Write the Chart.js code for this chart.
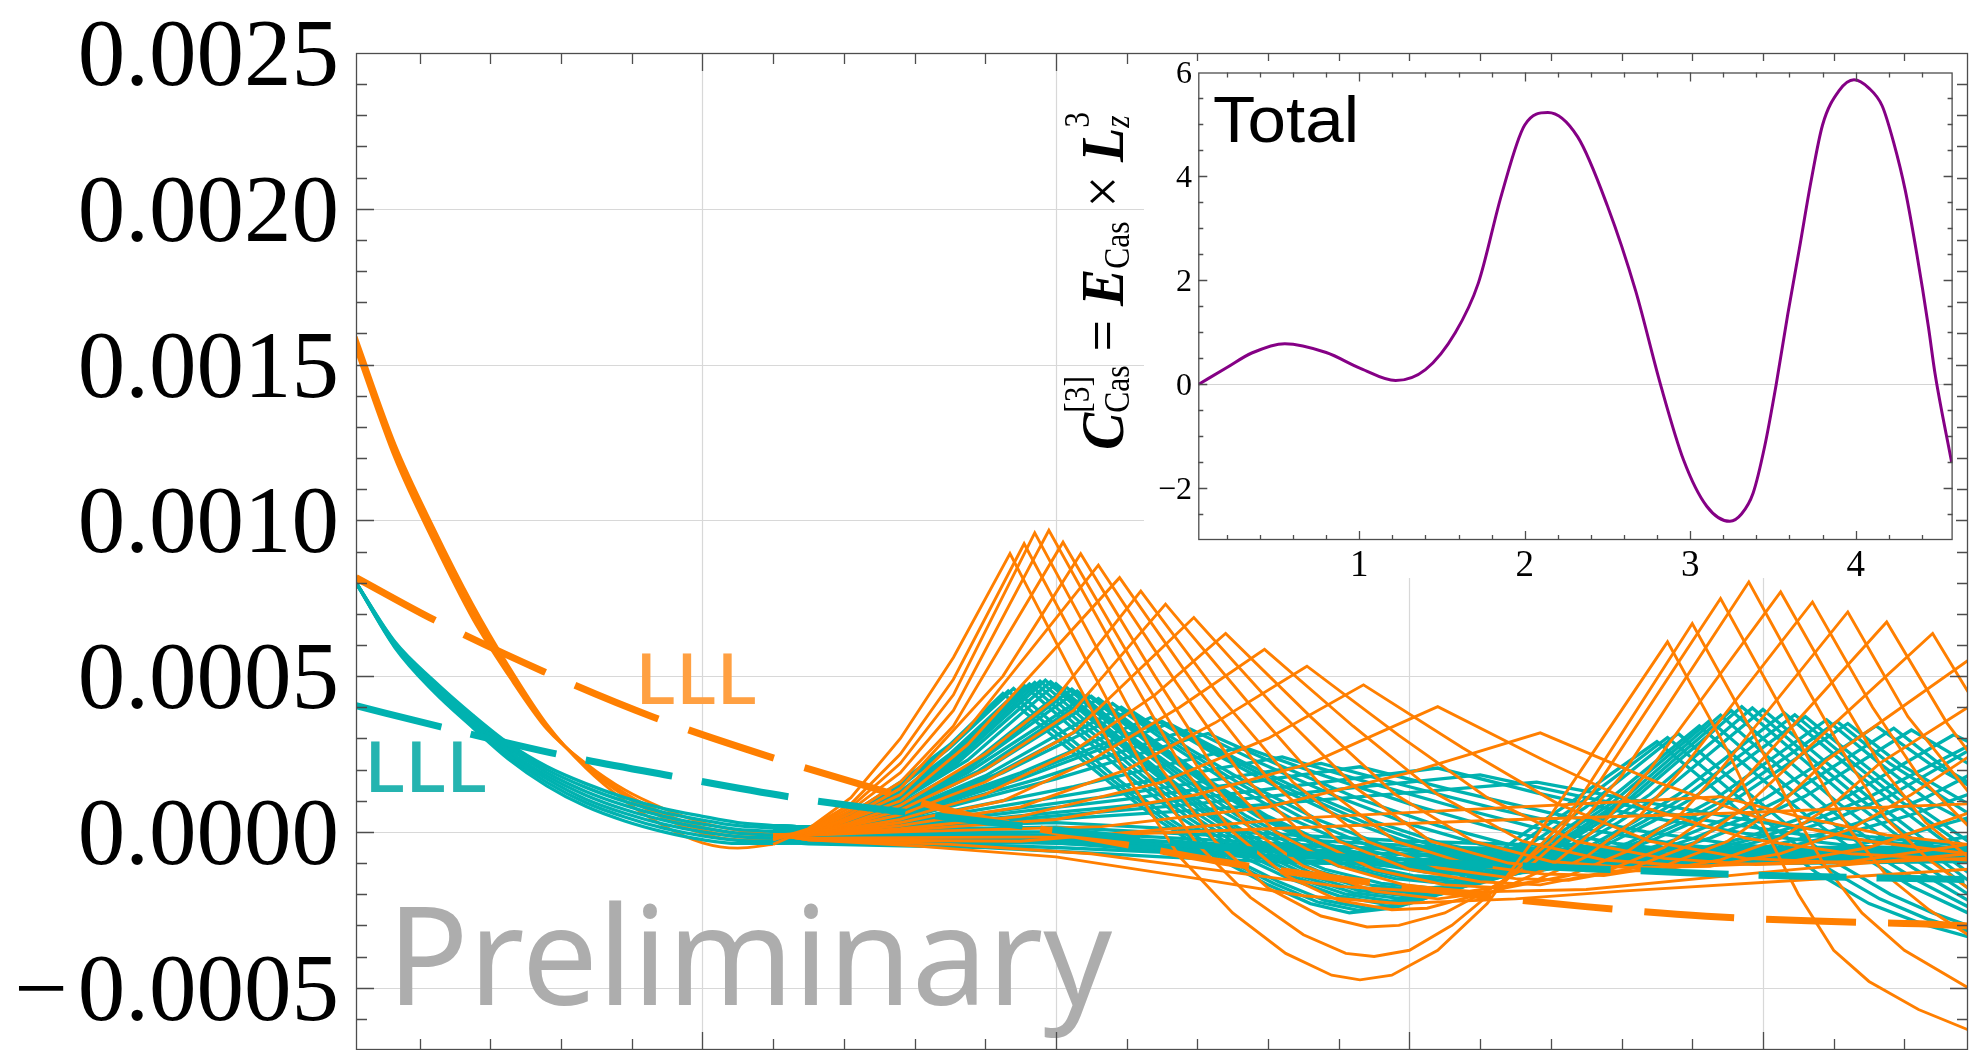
<!DOCTYPE html>
<html>
<head>
<meta charset="utf-8">
<script src="https://cdn.jsdelivr.net/npm/chart.js@4.4.1/dist/chart.umd.min.js"></script>
<style>
  html, body { margin: 0; padding: 0; background: #fff; }
  #wrap { position: relative; width: 1970px; height: 1050px; overflow: hidden; }
  canvas { position: absolute; }
</style>
</head>
<body>
<div id="wrap">
  <canvas id="main-chart" width="1970" height="1050" style="left:0;top:0;width:1970px;height:1050px"></canvas>
  <canvas id="inset-chart" width="896" height="517" style="left:1060px;top:61px;width:896px;height:517px"></canvas>
</div>
<script>
/* main panel: y values are in units of 1e-4 */
const yTickValues = [-5, 0, 5, 10, 15, 20, 25];
const yTickLabels = ['\u22120.0005', '0.0000', '0.0005', '0.0010', '0.0015', '0.0020', '0.0025'];
const xGrid = [1, 2, 3, 4];

// shared x positions of the left-hand bundles
const headX = [0.02, 0.13, 0.24, 0.35, 0.45, 0.56, 0.67, 0.78, 0.89, 1.0, 1.1, 1.2];

const orangeBundle = [
  [15.9, 12.45, 9.75, 7.3, 5.35, 3.45, 2.05, 1.0, 0.2, -0.35, -0.52, -0.4],
  [15.75, 12.3, 9.6, 7.15, 5.25, 3.4, 2.1, 1.15, 0.45, -0.05, -0.25, -0.25],
  [15.68, 12.22, 9.52, 7.08, 5.2, 3.38, 2.12, 1.2, 0.52, 0.05, -0.15, -0.18],
  [15.6, 12.15, 9.45, 7.0, 5.15, 3.35, 2.15, 1.25, 0.6, 0.15, -0.05, -0.1],
  [15.45, 12.0, 9.3, 6.85, 5.05, 3.3, 2.2, 1.35, 0.75, 0.3, 0.05, -0.08]
];

// each mode: bundle index it leaves from, then its own points
const orangeModes = [
  { head: 0, tail: [[1.3,0.1],[1.42,1.1],[1.56,3.0],[1.71,5.6],[1.87,8.93],[2.05,5.0],[2.2,1.8],[2.35,-0.8],[2.5,-2.6],[2.65,-3.9],[2.78,-4.6],[2.86,-4.75],[2.95,-4.6],[3.08,-3.8],[3.22,-2.3],[3.38,0.2],[3.73,6.1],[3.9,2.6],[4.0,0.2],[4.1,-2.0],[4.2,-3.8],[4.3,-4.8],[4.44,-5.7],[4.58,-6.35]] },
  { head: 1, tail: [[1.3,0.1],[1.42,0.9],[1.56,2.5],[1.71,4.9],[1.91,9.25],[2.1,5.2],[2.25,2.0],[2.4,-0.4],[2.55,-2.1],[2.7,-3.3],[2.82,-3.9],[2.9,-4.0],[3.0,-3.8],[3.12,-3.0],[3.27,-1.6],[3.45,0.5],[3.8,6.69],[3.97,3.2],[4.07,1.0],[4.17,-1.0],[4.28,-2.6],[4.4,-3.8],[4.58,-5.0]] },
  { head: 1, tail: [[1.3,0.05],[1.42,0.8],[1.56,2.2],[1.71,4.4],[1.94,9.6],[2.13,5.6],[2.3,2.0],[2.45,-0.3],[2.6,-1.8],[2.75,-2.7],[2.88,-3.05],[2.97,-3.0],[3.1,-2.6],[3.25,-1.7],[3.4,-0.3],[3.52,1.3],[3.88,7.49],[4.05,4.0],[4.15,1.9],[4.25,0.0],[4.35,-1.4],[4.47,-2.5],[4.58,-3.3]] },
  { head: 2, tail: [[1.3,0.0],[1.42,0.7],[1.56,1.9],[1.71,3.9],[1.98,9.68],[2.18,5.6],[2.35,2.2],[2.5,0.0],[2.65,-1.4],[2.8,-2.2],[2.95,-2.5],[3.05,-2.45],[3.2,-2.0],[3.35,-1.0],[3.5,0.5],[3.6,1.8],[3.96,8.02],[4.13,4.5],[4.24,2.3],[4.35,0.4],[4.47,-0.9],[4.58,-1.8]] },
  { head: 2, tail: [[1.3,0.0],[1.42,0.6],[1.56,1.6],[1.71,3.4],[2.02,9.3],[2.22,5.4],[2.4,2.1],[2.55,0.1],[2.7,-1.1],[2.9,-1.9],[3.08,-2.15],[3.25,-1.9],[3.4,-1.1],[3.55,0.3],[3.68,2.0],[4.05,7.7],[4.22,4.3],[4.34,2.0],[4.46,0.3],[4.58,-0.8]] },
  { head: 3, tail: [[1.3,-0.05],[1.42,0.5],[1.56,1.4],[1.85,5.0],[2.07,8.93],[2.28,5.0],[2.45,2.0],[2.62,0.0],[2.8,-1.1],[3.0,-1.75],[3.17,-1.9],[3.35,-1.6],[3.5,-0.8],[3.65,0.5],[3.77,2.0],[4.14,7.38],[4.31,4.0],[4.44,1.8],[4.58,0.2]] },
  { head: 3, tail: [[1.3,-0.05],[1.42,0.45],[1.56,1.2],[1.75,3.3],[2.12,8.56],[2.34,4.8],[2.52,1.9],[2.7,-0.1],[2.9,-1.2],[3.1,-1.7],[3.27,-1.8],[3.45,-1.4],[3.62,-0.6],[3.77,0.6],[3.88,2.0],[4.24,7.06],[4.41,3.7],[4.58,1.3]] },
  { head: 3, tail: [[1.3,-0.1],[1.42,0.4],[1.56,1.0],[1.75,2.8],[2.18,8.16],[2.4,4.6],[2.6,1.7],[2.8,-0.3],[3.0,-1.2],[3.2,-1.6],[3.37,-1.7],[3.55,-1.3],[3.72,-0.5],[3.87,0.7],[3.98,2.1],[4.35,6.74],[4.52,3.5],[4.58,2.6]] },
  { head: 3, tail: [[1.3,-0.1],[1.42,0.3],[1.56,0.85],[1.8,2.5],[2.0,4.3],[2.24,7.73],[2.46,4.4],[2.67,1.6],[2.88,-0.3],[3.08,-1.15],[3.3,-1.5],[3.45,-1.55],[3.62,-1.2],[3.8,-0.4],[3.95,0.8],[4.08,2.2],[4.48,6.37],[4.58,4.5]] },
  { head: 4, tail: [[1.3,-0.1],[1.42,0.25],[1.56,0.7],[1.8,2.0],[2.05,3.9],[2.31,7.31],[2.54,4.2],[2.75,1.5],[2.96,-0.3],[3.17,-1.05],[3.38,-1.35],[3.55,-1.4],[3.72,-1.1],[3.9,-0.3],[4.05,0.9],[4.18,2.3],[4.58,5.5]] },
  { head: 4, tail: [[1.3,-0.1],[1.42,0.2],[1.56,0.55],[1.8,1.6],[2.05,3.2],[2.39,6.88],[2.62,4.0],[2.85,1.4],[3.06,-0.3],[3.28,-1.0],[3.5,-1.25],[3.7,-1.25],[3.88,-0.9],[4.05,-0.2],[4.2,0.9],[4.33,2.2],[4.58,4.0]] },
  { head: 4, tail: [[1.3,-0.1],[1.56,0.4],[1.8,1.2],[2.05,2.6],[2.28,4.4],[2.48,6.37],[2.72,3.7],[2.96,1.2],[3.18,-0.3],[3.4,-0.95],[3.62,-1.15],[3.85,-1.1],[4.05,-0.7],[4.25,0.1],[4.42,1.2],[4.58,2.4]] },
  { head: 4, tail: [[1.3,-0.1],[1.56,0.3],[1.85,1.0],[2.1,2.3],[2.35,4.0],[2.59,5.86],[2.84,3.4],[3.08,1.2],[3.32,-0.3],[3.55,-0.9],[3.8,-1.1],[4.05,-1.0],[4.3,-0.5],[4.58,0.6]] },
  { head: 4, tail: [[1.3,-0.1],[1.56,0.2],[1.9,0.8],[2.2,2.0],[2.45,3.5],[2.71,5.32],[2.97,3.1],[3.22,1.1],[3.47,-0.3],[3.72,-0.85],[3.98,-1.05],[4.25,-0.95],[4.58,-0.4]] },
  { head: 4, tail: [[1.3,-0.1],[1.56,0.1],[1.9,0.5],[2.3,1.6],[2.6,3.0],[2.87,4.72],[3.15,2.7],[3.42,0.9],[3.68,-0.3],[3.95,-0.85],[4.25,-1.0],[4.58,-0.85]] },
  { head: 4, tail: [[1.3,-0.1],[1.56,0.05],[2.0,0.4],[2.4,1.2],[2.72,2.2],[3.08,4.02],[3.38,2.3],[3.66,0.8],[3.95,-0.2],[4.25,-0.7],[4.58,-0.9]] },
  { head: 4, tail: [[1.3,-0.1],[1.56,0.0],[2.13,0.17],[2.6,0.8],[3.0,1.9],[3.37,3.18],[3.7,1.6],[4.0,0.4],[4.3,-0.3],[4.58,-0.7]] },
  { head: 4, tail: [[1.3,-0.25],[1.9,-0.3],[2.7,0.45],[3.88,1.13],[4.1,0.5],[4.35,-0.1],[4.58,-0.4]] },
  { head: 4, tail: [[1.3,-0.2],[2.0,-0.16],[2.6,0.1],[3.26,0.38],[3.9,0.6],[4.58,0.9]] },
  { head: 4, tail: [[1.3,-0.25],[1.6,-0.45],[2.0,-0.8],[2.4,-1.5],[2.7,-2.05],[2.97,-2.3],[3.3,-2.15],[3.6,-1.9],[4.1,-1.55],[4.58,-1.2]] },
  { head: 4, tail: [[1.3,-0.25],[1.7,-0.4],[2.1,-0.7],[2.5,-1.3],[2.8,-1.75],[3.1,-1.95],[3.5,-1.85],[4.0,-1.3],[4.58,-0.7]] }
];

const tealBundle = [
  [8.0, 6.1, 4.85, 3.75, 2.85, 2.1, 1.55, 1.1, 0.75, 0.5, 0.3, 0.2],
  [8.0, 6.07, 4.8, 3.7, 2.78, 2.0, 1.43, 0.98, 0.63, 0.38, 0.2, 0.12],
  [8.0, 6.03, 4.72, 3.62, 2.7, 1.9, 1.3, 0.85, 0.5, 0.25, 0.08, 0.02],
  [8.0, 6.0, 4.66, 3.55, 2.61, 1.8, 1.18, 0.72, 0.38, 0.13, -0.04, -0.1],
  [8.0, 5.97, 4.6, 3.48, 2.52, 1.7, 1.05, 0.6, 0.25, 0.0, -0.15, -0.2],
  [8.0, 5.95, 4.55, 3.42, 2.44, 1.59, 0.94, 0.48, 0.12, -0.13, -0.27, -0.3],
  [8.0, 5.92, 4.5, 3.35, 2.35, 1.48, 0.82, 0.35, 0.0, -0.25, -0.37, -0.37]
];

const tealModes = [
  { head: 6, tail: [[1.3,0.0],[1.45,0.8],[1.56,1.6],[1.7,2.8],[1.85,4.44],[2.0,3.0],[2.15,1.6],[2.3,0.3],[2.45,-0.8],[2.6,-1.7],[2.72,-2.3],[2.83,-2.6],[2.95,-2.45],[3.08,-1.9],[3.2,-1.1],[3.33,0.0],[3.45,0.9],[3.7,2.9],[3.85,1.5],[4.0,0.0],[4.15,-1.3],[4.3,-2.3],[4.45,-2.95],[4.58,-3.36]] },
  { head: 5, tail: [[1.3,0.0],[1.45,0.75],[1.56,1.52],[1.7,2.75],[1.865,4.52],[2.015,3.05],[2.165,1.62],[2.315,0.32],[2.465,-0.78],[2.615,-1.65],[2.74,-2.25],[2.855,-2.52],[2.975,-2.38],[3.105,-1.85],[3.23,-1.05],[3.355,-0.05],[3.475,0.85],[3.73,3.03],[3.88,1.6],[4.03,0.15],[4.18,-1.15],[4.33,-2.15],[4.465,-2.8],[4.58,-3.18]] },
  { head: 6, tail: [[1.3,0.0],[1.45,0.7],[1.56,1.45],[1.7,2.7],[1.88,4.6],[2.03,3.1],[2.18,1.65],[2.33,0.35],[2.48,-0.75],[2.63,-1.6],[2.76,-2.2],[2.88,-2.45],[3.0,-2.3],[3.13,-1.8],[3.26,-1.0],[3.38,-0.1],[3.5,0.8],[3.76,3.16],[3.91,1.7],[4.06,0.3],[4.21,-1.0],[4.36,-2.0],[4.48,-2.6],[4.58,-3.0]] },
  { head: 4, tail: [[1.3,0.05],[1.45,0.65],[1.56,1.3],[1.7,2.5],[1.91,4.7],[2.06,3.2],[2.21,1.75],[2.36,0.4],[2.51,-0.7],[2.66,-1.5],[2.8,-2.05],[2.92,-2.3],[3.04,-2.15],[3.17,-1.65],[3.3,-0.9],[3.43,0.0],[3.55,0.9],[3.82,3.4],[3.97,1.95],[4.12,0.55],[4.27,-0.7],[4.42,-1.75],[4.58,-2.6]] },
  { head: 3, tail: [[1.3,0.05],[1.45,0.62],[1.56,1.25],[1.7,2.4],[1.925,4.75],[2.075,3.25],[2.225,1.8],[2.375,0.45],[2.525,-0.65],[2.675,-1.45],[2.82,-2.0],[2.945,-2.22],[3.065,-2.08],[3.195,-1.58],[3.325,-0.85],[3.455,0.05],[3.575,0.95],[3.85,3.58],[4.0,2.1],[4.15,0.68],[4.3,-0.6],[4.44,-1.58],[4.58,-2.4]] },
  { head: 4, tail: [[1.3,0.05],[1.45,0.6],[1.56,1.2],[1.7,2.3],[1.94,4.8],[2.09,3.3],[2.24,1.85],[2.39,0.5],[2.54,-0.6],[2.69,-1.4],[2.84,-1.95],[2.97,-2.13],[3.09,-2.0],[3.22,-1.5],[3.35,-0.8],[3.48,0.1],[3.6,1.0],[3.88,3.75],[4.03,2.25],[4.18,0.8],[4.33,-0.5],[4.46,-1.4],[4.58,-2.2]] },
  { head: 2, tail: [[1.3,0.08],[1.45,0.57],[1.56,1.15],[1.7,2.2],[1.955,4.84],[2.105,3.35],[2.255,1.9],[2.405,0.55],[2.555,-0.55],[2.705,-1.35],[2.855,-1.88],[2.99,-2.05],[3.115,-1.9],[3.245,-1.42],[3.375,-0.72],[3.505,0.18],[3.625,1.1],[3.91,3.9],[4.06,2.4],[4.21,0.95],[4.36,-0.35],[4.48,-1.25],[4.58,-2.0]] },
  { head: 2, tail: [[1.3,0.1],[1.45,0.55],[1.56,1.1],[1.7,2.1],[1.97,4.87],[2.12,3.4],[2.27,1.95],[2.42,0.6],[2.57,-0.5],[2.72,-1.3],[2.87,-1.8],[3.01,-1.96],[3.14,-1.8],[3.27,-1.35],[3.4,-0.65],[3.53,0.25],[3.65,1.2],[3.94,4.02],[4.09,2.55],[4.24,1.1],[4.39,-0.2],[4.5,-1.1],[4.58,-1.8]] },
  { head: 1, tail: [[1.3,0.1],[1.45,0.52],[1.56,1.05],[1.72,2.2],[1.985,4.82],[2.135,3.35],[2.285,1.92],[2.435,0.6],[2.585,-0.48],[2.74,-1.25],[2.895,-1.72],[3.035,-1.88],[3.17,-1.72],[3.3,-1.28],[3.43,-0.6],[3.56,0.28],[3.68,1.2],[3.97,3.98],[4.12,2.52],[4.27,1.1],[4.42,-0.2],[4.58,-1.55]] },
  { head: 2, tail: [[1.3,0.1],[1.45,0.5],[1.56,1.0],[1.75,2.3],[2.0,4.76],[2.15,3.3],[2.3,1.9],[2.45,0.6],[2.6,-0.45],[2.76,-1.2],[2.92,-1.65],[3.06,-1.8],[3.2,-1.65],[3.33,-1.2],[3.46,-0.55],[3.59,0.3],[3.71,1.2],[4.0,3.93],[4.15,2.5],[4.3,1.1],[4.45,-0.2],[4.58,-1.3]] },
  { head: 2, tail: [[1.3,0.1],[1.45,0.45],[1.56,0.9],[1.75,2.1],[2.03,4.64],[2.18,3.2],[2.33,1.85],[2.48,0.6],[2.64,-0.4],[2.8,-1.1],[2.96,-1.5],[3.1,-1.65],[3.24,-1.5],[3.38,-1.1],[3.51,-0.45],[3.64,0.35],[3.76,1.2],[4.06,3.82],[4.21,2.4],[4.36,1.0],[4.5,-0.2],[4.58,-0.8]] },
  { head: 0, tail: [[1.3,0.15],[1.45,0.45],[1.56,0.87],[1.75,2.05],[2.045,4.58],[2.2,3.1],[2.355,1.77],[2.51,0.55],[2.67,-0.42],[2.83,-1.08],[2.985,-1.45],[3.125,-1.58],[3.265,-1.44],[3.405,-1.05],[3.535,-0.42],[3.665,0.35],[3.785,1.18],[4.09,3.76],[4.24,2.35],[4.39,0.98],[4.58,-0.55]] },
  { head: 0, tail: [[1.3,0.15],[1.45,0.45],[1.56,0.85],[1.75,2.0],[2.06,4.52],[2.22,3.0],[2.38,1.7],[2.54,0.5],[2.7,-0.45],[2.86,-1.05],[3.01,-1.4],[3.15,-1.5],[3.29,-1.38],[3.43,-1.0],[3.56,-0.4],[3.69,0.35],[3.81,1.15],[4.12,3.7],[4.27,2.3],[4.42,0.95],[4.58,-0.3]] },
  { head: 0, tail: [[1.3,0.15],[1.56,0.8],[1.75,1.9],[2.09,4.4],[2.25,2.95],[2.41,1.65],[2.57,0.5],[2.73,-0.4],[2.89,-1.0],[3.05,-1.3],[3.2,-1.4],[3.35,-1.28],[3.49,-0.9],[3.62,-0.35],[3.75,0.35],[3.87,1.1],[4.18,3.6],[4.33,2.2],[4.48,0.9],[4.58,0.3]] },
  { head: 4, tail: [[1.3,0.05],[1.56,0.75],[1.78,1.95],[2.1,4.35],[2.265,2.92],[2.425,1.62],[2.585,0.5],[2.75,-0.4],[2.915,-0.98],[3.075,-1.26],[3.22,-1.35],[3.37,-1.24],[3.515,-0.88],[3.65,-0.32],[3.78,0.35],[3.9,1.1],[4.21,3.54],[4.36,2.18],[4.58,0.6]] },
  { head: 4, tail: [[1.3,0.05],[1.56,0.7],[1.8,2.0],[2.12,4.28],[2.28,2.9],[2.44,1.6],[2.6,0.5],[2.77,-0.4],[2.94,-0.95],[3.1,-1.22],[3.24,-1.3],[3.39,-1.2],[3.54,-0.85],[3.68,-0.3],[3.81,0.35],[3.93,1.1],[4.24,3.48],[4.39,2.15],[4.58,0.9]] },
  { head: 6, tail: [[1.3,0.0],[1.56,0.65],[1.8,1.8],[2.16,4.12],[2.33,2.75],[2.5,1.5],[2.67,0.4],[2.84,-0.45],[3.0,-0.95],[3.15,-1.15],[3.3,-1.2],[3.46,-1.1],[3.61,-0.78],[3.75,-0.25],[3.89,0.4],[4.01,1.1],[4.32,3.4],[4.47,2.2],[4.58,1.5]] },
  { head: 6, tail: [[1.3,0.0],[1.56,0.62],[1.83,1.85],[2.185,4.0],[2.355,2.7],[2.53,1.48],[2.705,0.4],[2.88,-0.42],[3.04,-0.9],[3.19,-1.1],[3.34,-1.15],[3.5,-1.05],[3.655,-0.74],[3.8,-0.22],[3.94,0.42],[4.065,1.12],[4.37,3.33],[4.52,2.0],[4.58,1.6]] },
  { head: 2, tail: [[1.3,0.1],[1.56,0.6],[1.85,1.9],[2.21,3.91],[2.38,2.65],[2.56,1.45],[2.74,0.4],[2.92,-0.4],[3.08,-0.85],[3.23,-1.05],[3.38,-1.1],[3.54,-1.0],[3.7,-0.7],[3.85,-0.2],[3.99,0.45],[4.12,1.15],[4.42,3.27],[4.58,2.2]] },
  { head: 4, tail: [[1.3,0.05],[1.56,0.55],[1.9,1.9],[2.27,3.68],[2.45,2.5],[2.64,1.35],[2.83,0.35],[3.01,-0.4],[3.17,-0.8],[3.32,-0.97],[3.47,-1.0],[3.63,-0.9],[3.8,-0.6],[3.96,-0.15],[4.11,0.45],[4.24,1.15],[4.54,3.12],[4.58,2.9]] },
  { head: 3, tail: [[1.3,0.08],[1.56,0.52],[1.9,1.8],[2.3,3.55],[2.48,2.42],[2.675,1.3],[2.87,0.32],[3.055,-0.4],[3.22,-0.79],[3.365,-0.95],[3.51,-0.97],[3.675,-0.87],[3.85,-0.57],[4.01,-0.12],[4.16,0.45],[4.3,1.12],[4.58,2.75]] },
  { head: 0, tail: [[1.3,0.15],[1.56,0.5],[1.9,1.7],[2.32,3.48],[2.51,2.35],[2.71,1.25],[2.91,0.3],[3.1,-0.4],[3.27,-0.78],[3.41,-0.93],[3.55,-0.95],[3.72,-0.85],[3.9,-0.55],[4.06,-0.1],[4.21,0.45],[4.35,1.1],[4.58,2.6]] },
  { head: 6, tail: [[1.3,0.0],[1.56,0.45],[1.95,1.7],[2.38,3.3],[2.58,2.2],[2.79,1.15],[3.0,0.25],[3.2,-0.4],[3.38,-0.75],[3.52,-0.88],[3.64,-0.9],[3.82,-0.8],[4.0,-0.5],[4.17,-0.05],[4.33,0.5],[4.46,1.1],[4.58,1.8]] },
  { head: 2, tail: [[1.3,0.1],[1.56,0.4],[2.0,1.7],[2.43,3.16],[2.64,2.1],[2.86,1.05],[3.08,0.2],[3.28,-0.4],[3.46,-0.72],[3.6,-0.83],[3.72,-0.85],[3.9,-0.75],[4.08,-0.45],[4.25,0.0],[4.42,0.55],[4.58,1.2]] },
  { head: 4, tail: [[1.3,0.05],[1.56,0.35],[2.05,1.45],[2.53,2.73],[2.76,1.8],[3.0,0.9],[3.23,0.15],[3.44,-0.38],[3.63,-0.68],[3.78,-0.78],[3.87,-0.8],[4.05,-0.72],[4.25,-0.45],[4.42,-0.05],[4.58,0.45]] },
  { head: 0, tail: [[1.3,0.15],[1.56,0.3],[2.1,1.3],[2.64,2.41],[2.88,1.6],[3.13,0.8],[3.37,0.1],[3.59,-0.38],[3.8,-0.66],[3.95,-0.74],[4.04,-0.75],[4.25,-0.66],[4.45,-0.4],[4.58,-0.15]] },
  { head: 6, tail: [[1.3,0.0],[1.56,0.25],[2.15,1.15],[2.75,2.2],[3.0,1.45],[3.26,0.7],[3.52,0.05],[3.76,-0.4],[3.98,-0.63],[4.2,-0.7],[4.4,-0.62],[4.58,-0.45]] },
  { head: 2, tail: [[1.3,0.1],[1.56,0.2],[2.2,1.05],[2.86,2.09],[3.12,1.35],[3.4,0.6],[3.67,0.0],[3.92,-0.4],[4.15,-0.6],[4.38,-0.68],[4.58,-0.64]] },
  { head: 4, tail: [[1.3,0.05],[1.56,0.15],[2.3,0.95],[3.08,2.05],[3.36,1.25],[3.66,0.5],[3.95,-0.05],[4.25,-0.45],[4.58,-0.62]] },
  { head: 6, tail: [[1.3,0.0],[1.56,0.1],[2.35,0.85],[3.2,1.83],[3.5,1.1],[3.82,0.4],[4.12,-0.1],[4.58,-0.55]] },
  { head: 0, tail: [[1.3,0.15],[1.56,0.1],[2.4,0.7],[3.36,1.6],[3.67,0.95],[4.0,0.3],[4.3,-0.15],[4.58,-0.45]] },
  // low, nearly flat modes forming the dense band
  { head: 1, tail: [[1.3,0.1],[2.0,0.3],[2.5,0.0],[3.0,-0.3],[3.6,-0.5],[4.58,-0.5]] },
  { head: 2, tail: [[1.3,0.05],[2.0,0.15],[2.6,-0.2],[3.1,-0.5],[3.7,-0.6],[4.58,-0.55]] },
  { head: 3, tail: [[1.3,0.0],[2.0,0.0],[2.6,-0.35],[3.1,-0.65],[3.7,-0.72],[4.58,-0.65]] },
  { head: 4, tail: [[1.3,-0.05],[2.0,-0.1],[2.6,-0.5],[3.1,-0.8],[3.7,-0.82],[4.58,-0.72]] },
  { head: 5, tail: [[1.3,-0.15],[2.0,-0.2],[2.6,-0.62],[3.1,-0.95],[3.7,-0.92],[4.58,-0.8]] },
  { head: 6, tail: [[1.3,-0.3],[2.0,-0.3],[2.6,-0.75],[3.1,-1.1],[3.7,-1.0],[4.58,-0.88]] },
  { head: 6, tail: [[1.3,-0.35],[2.0,-0.35],[2.6,-0.85],[3.1,-1.2],[3.7,-1.05],[4.58,-0.95]] },
  { head: 5, tail: [[1.3,-0.25],[2.0,-0.25],[2.5,-0.55],[3.0,-0.9],[3.6,-0.85],[4.58,-0.75]] },
  { head: 6, tail: [[1.3,-0.35],[1.6,-0.35],[2.0,-0.5],[2.5,-0.75],[3.0,-0.9],[3.5,-0.88],[4.0,-0.78],[4.58,-0.7]] },
  { head: 4, tail: [[1.3,-0.2],[1.7,-0.25],[2.2,-0.45],[2.7,-0.65],[3.2,-0.75],[3.8,-0.72],[4.58,-0.62]] },
  { head: 5, tail: [[1.3,-0.38],[1.8,-0.5],[2.3,-0.8],[2.7,-1.0],[3.1,-1.05],[3.6,-0.95],[4.1,-0.85],[4.58,-0.8]] },
  { head: 2, tail: [[1.3,-0.05],[1.8,-0.15],[2.4,-0.35],[3.0,-0.55],[3.6,-0.62],[4.58,-0.55]] }
];

// LLL reference curves (dashed)
const orangeLLL = [[0.02,8.16],[0.24,6.81],[0.55,5.15],[0.86,3.69],[1.18,2.45],[1.5,1.35],[1.72,0.62],[2.0,0.0],[2.13,-0.26],[2.49,-1.0],[2.83,-1.54],[3.2,-2.05],[3.49,-2.39],[3.84,-2.71],[4.17,-2.87],[4.51,-2.98],[4.58,-3.02]];
const tealLLL = [[0.02,4.05],[0.26,3.37],[0.6,2.47],[0.92,1.78],[1.26,1.1],[1.45,0.8],[1.75,0.4],[2.05,0.0],[2.4,-0.42],[2.8,-0.8],[3.1,-1.0],[3.36,-1.11],[3.7,-1.27],[3.95,-1.38],[4.33,-1.48],[4.58,-1.53]];

/* inset: Total */
const insetX = [0.03,0.2,0.35,0.55,0.8,1.01,1.22,1.4,1.58,1.72,1.86,2.0,2.14,2.32,2.5,2.67,2.82,2.96,3.1,3.24,3.31,3.38,3.45,3.52,3.59,3.66,3.73,3.8,3.9,3.99,4.08,4.16,4.23,4.3,4.37,4.44,4.48,4.58];
const insetY = [0,0.32,0.6,0.78,0.61,0.30,0.07,0.28,0.99,1.95,3.65,4.99,5.23,4.76,3.43,1.80,0,-1.46,-2.35,-2.64,-2.5,-2.1,-1.2,0,1.35,2.61,3.9,4.99,5.65,5.86,5.7,5.36,4.65,3.73,2.5,1.1,0.2,-1.5];
const insetYTicks = [-2, 0, 2, 4, 6];
const insetYLabels = ['\u22122', '0', '2', '4', '6'];
const insetXTicks = [1, 2, 3, 4];
const insetXLabels = ['1', '2', '3', '4'];

const ORANGE = '#ff7f00';
const TEAL = '#00b2b0';
const PURPLE = '#850085';
const SERIF = '"Liberation Serif", "Times New Roman", serif';

const headPoints = head => headX.map((x, i) => ({ x, y: head[i] }));
const tailPoints = (head, tail) =>
  [{ x: headX[headX.length - 1], y: head[head.length - 1] }].concat(tail.map(p => ({ x: p[0], y: p[1] })));

// draw order: orange bundle at the back, teal over it, orange modes over teal, dashed on top
const datasets = [];
orangeBundle.forEach(h => datasets.push({
  data: headPoints(h), borderColor: ORANGE, borderWidth: 2.9, cubicInterpolationMode: 'monotone', order: 4
}));
tealBundle.forEach(h => datasets.push({
  data: headPoints(h), borderColor: TEAL, borderWidth: 3.3, cubicInterpolationMode: 'monotone', order: 3
}));
tealModes.forEach(m => datasets.push({
  data: tailPoints(tealBundle[m.head], m.tail), borderColor: TEAL, borderWidth: 3.3, order: 3
}));
orangeModes.forEach(m => datasets.push({
  data: tailPoints(orangeBundle[m.head], m.tail), borderColor: ORANGE, borderWidth: 2.9, order: 2
}));
datasets.push({
  data: orangeLLL.map(p => ({ x: p[0], y: p[1] })), borderColor: ORANGE, borderWidth: 7,
  borderDash: [90, 32], cubicInterpolationMode: 'monotone', order: 1
});
datasets.push({
  data: tealLLL.map(p => ({ x: p[0], y: p[1] })), borderColor: TEAL, borderWidth: 7,
  borderDash: [88, 30], cubicInterpolationMode: 'monotone', order: 0
});

function stretchText(ctx, text, x, yb, width) {
  const w = ctx.measureText(text).width;
  ctx.save();
  ctx.translate(x, yb);
  ctx.scale(width / w, 1);
  ctx.fillText(text, 0, 0);
  ctx.restore();
}

const mainDecor = {
  id: 'mainDecor',
  beforeDatasetsDraw(chart) {
    const { ctx, chartArea: a, scales: { x, y } } = chart;
    ctx.save();
    ctx.strokeStyle = '#d8d8d8';
    ctx.lineWidth = 1.2;
    ctx.beginPath();
    xGrid.forEach(v => {
      const px = Math.round(x.getPixelForValue(v)) + 0.5;
      ctx.moveTo(px, a.top); ctx.lineTo(px, a.bottom);
    });
    yTickValues.slice(0, -1).forEach(v => {
      const py = Math.round(y.getPixelForValue(v)) + 0.5;
      ctx.moveTo(a.left, py); ctx.lineTo(a.right, py);
    });
    ctx.stroke();
    // watermark
    ctx.fillStyle = '#adadad';
    ctx.font = '137px "Noto Sans", sans-serif';
    ctx.textBaseline = 'alphabetic';
    stretchText(ctx, 'Preliminary', 387, 1005, 725);
    ctx.restore();
  },
  afterDatasetsDraw(chart) {
    const { ctx, chartArea: a, scales: { x, y } } = chart;
    ctx.save();
    ctx.strokeStyle = '#4d4d4d';
    ctx.lineWidth = 1.3;
    ctx.strokeRect(a.left + 0.5, a.top + 0.5, a.right - a.left - 1, a.bottom - a.top - 1);
    ctx.beginPath();
    for (let k = -6; k <= 24; k++) {
      const py = Math.round(y.getPixelForValue(k)) + 0.5;
      const len = k % 5 === 0 ? 18 : 11;
      ctx.moveTo(a.left, py); ctx.lineTo(a.left + len, py);
      ctx.moveTo(a.right, py); ctx.lineTo(a.right - len, py);
    }
    for (let k = 1; k <= 22; k++) {
      const px = Math.round(x.getPixelForValue(k * 0.2)) + 0.5;
      const len = k % 5 === 0 ? 18 : 11;
      ctx.moveTo(px, a.top); ctx.lineTo(px, a.top + len);
      ctx.moveTo(px, a.bottom); ctx.lineTo(px, a.bottom - len);
    }
    ctx.stroke();

    // y tick labels
    ctx.fillStyle = '#000';
    ctx.font = '95px ' + SERIF;
    ctx.textAlign = 'right';
    ctx.textBaseline = 'alphabetic';
    yTickValues.forEach((v, i) => {
      const py = y.getPixelForValue(v) + 32;
      const label = yTickLabels[i];
      if (label[0] === '\u2212') {
        const rest = label.slice(1);
        ctx.fillText(rest, 339, py);
        ctx.fillText('\u2212', 339 - ctx.measureText(rest).width - 10, py);
      } else {
        ctx.fillText(label, 339, py);
      }
    });

    // curve labels
    ctx.textAlign = 'left';
    ctx.font = '500 70px "Noto Sans", sans-serif';
    ctx.fillStyle = '#ffa042';
    stretchText(ctx, 'LLL', 635, 704, 122);
    ctx.fillStyle = '#25b4b0';
    stretchText(ctx, 'LLL', 364, 792, 123);
    ctx.restore();
  }
};

new Chart(document.getElementById('main-chart'), {
  type: 'line',
  data: { datasets },
  options: {
    responsive: false,
    animation: false,
    devicePixelRatio: 1,
    layout: { padding: { left: 356, top: 53, right: 2, bottom: 0 } },
    elements: { point: { radius: 0 }, line: { tension: 0, fill: false, borderJoinStyle: 'miter' } },
    scales: {
      x: { type: 'linear', min: 0.02, max: 4.58, display: false },
      y: { type: 'linear', min: -7, max: 25, display: false }
    },
    plugins: { legend: { display: false }, tooltip: { enabled: false } }
  },
  plugins: [mainDecor]
});

/* ---------- inset ---------- */
function drawInsetTitle(ctx) {
  const big = 'italic bold 62px ' + SERIF;
  const up = '62px ' + SERIF;
  const small = '35px ' + SERIF;
  const smallIt = 'italic 35px ' + SERIF;
  const SUP = -34, SUB = 6;
  const parts = [
    [{ t: 'C', f: big, dy: 0 }],
    [{ t: '[3]', f: small, dy: SUP }, { t: 'Cas', f: small, dy: SUB }],
    [{ t: ' = ', f: up, dy: 0 }],
    [{ t: 'E', f: big, dy: 0 }],
    [{ t: 'Cas', f: small, dy: SUB }],
    [{ t: ' \u00d7 ', f: up, dy: 0 }],
    [{ t: 'L', f: big, dy: 0 }],
    [{ t: '3', f: small, dy: SUP }, { t: 'z', f: smallIt, dy: SUB }]
  ];
  let total = 0;
  const widths = parts.map(group => {
    const w = Math.max(...group.map(p => { ctx.font = p.f; return ctx.measureText(p.t).width; }));
    total += w;
    return w;
  });
  ctx.save();
  ctx.translate(63, 389);
  ctx.rotate(-Math.PI / 2);
  ctx.scale(338 / total, 1);
  ctx.fillStyle = '#000';
  ctx.textAlign = 'left';
  ctx.textBaseline = 'alphabetic';
  let pos = 0;
  parts.forEach((group, i) => {
    group.forEach(p => { ctx.font = p.f; ctx.fillText(p.t, pos, p.dy); });
    pos += widths[i];
  });
  ctx.restore();
}

const insetDecor = {
  id: 'insetDecor',
  beforeDraw(chart) {
    const ctx = chart.ctx;
    ctx.save();
    ctx.fillStyle = '#fff';
    ctx.fillRect(84, 0, chart.width - 84, chart.height);
    ctx.restore();
  },
  beforeDatasetsDraw(chart) {
    const { ctx, chartArea: a, scales: { y } } = chart;
    const py = Math.round(y.getPixelForValue(0)) + 0.5;
    ctx.save();
    ctx.strokeStyle = '#d4d4d4';
    ctx.lineWidth = 1.2;
    ctx.beginPath(); ctx.moveTo(a.left, py); ctx.lineTo(a.right, py); ctx.stroke();
    ctx.restore();
  },
  afterDatasetsDraw(chart) {
    const { ctx, chartArea: a, scales: { x, y } } = chart;
    ctx.save();
    ctx.strokeStyle = '#4d4d4d';
    ctx.lineWidth = 1.3;
    ctx.strokeRect(a.left + 0.5, a.top + 0.5, a.right - a.left - 1, a.bottom - a.top - 1);
    ctx.beginPath();
    for (let k = -5; k <= 11; k++) {
      const py = Math.round(y.getPixelForValue(k * 0.5)) + 0.5;
      const len = k % 4 === 0 ? 9 : 5;
      ctx.moveTo(a.left, py); ctx.lineTo(a.left + len, py);
      ctx.moveTo(a.right, py); ctx.lineTo(a.right - len, py);
    }
    for (let k = 1; k <= 22; k++) {
      const px = Math.round(x.getPixelForValue(k * 0.2)) + 0.5;
      const len = k % 5 === 0 ? 9 : 5;
      ctx.moveTo(px, a.top); ctx.lineTo(px, a.top + len);
      ctx.moveTo(px, a.bottom); ctx.lineTo(px, a.bottom - len);
    }
    ctx.stroke();

    ctx.fillStyle = '#000';
    ctx.textBaseline = 'alphabetic';
    ctx.font = '32px ' + SERIF;
    ctx.textAlign = 'right';
    insetYTicks.forEach((v, i) => ctx.fillText(insetYLabels[i], 132, y.getPixelForValue(v) + 10.5));
    ctx.font = '37px ' + SERIF;
    ctx.textAlign = 'center';
    insetXTicks.forEach((v, i) => ctx.fillText(insetXLabels[i], x.getPixelForValue(v), 515));

    ctx.textAlign = 'left';
    ctx.font = '65px "Liberation Sans", Arial, sans-serif';
    stretchText(ctx, 'Total', 153, 80.6, 146);
    drawInsetTitle(ctx);
    ctx.restore();
  }
};

new Chart(document.getElementById('inset-chart'), {
  type: 'line',
  data: {
    datasets: [{
      data: insetX.map((v, i) => ({ x: v, y: insetY[i] })),
      borderColor: PURPLE, borderWidth: 3, pointRadius: 0, fill: false,
      cubicInterpolationMode: 'monotone'
    }]
  },
  options: {
    responsive: false,
    animation: false,
    devicePixelRatio: 1,
    layout: { padding: { left: 138.3, top: 11.5, right: 3.4, bottom: 38 } },
    scales: {
      x: { type: 'linear', min: 0.027, max: 4.586, display: false },
      y: { type: 'linear', min: -3, max: 6, display: false }
    },
    plugins: { legend: { display: false }, tooltip: { enabled: false } }
  },
  plugins: [insetDecor]
});
</script>
</body>
</html>
